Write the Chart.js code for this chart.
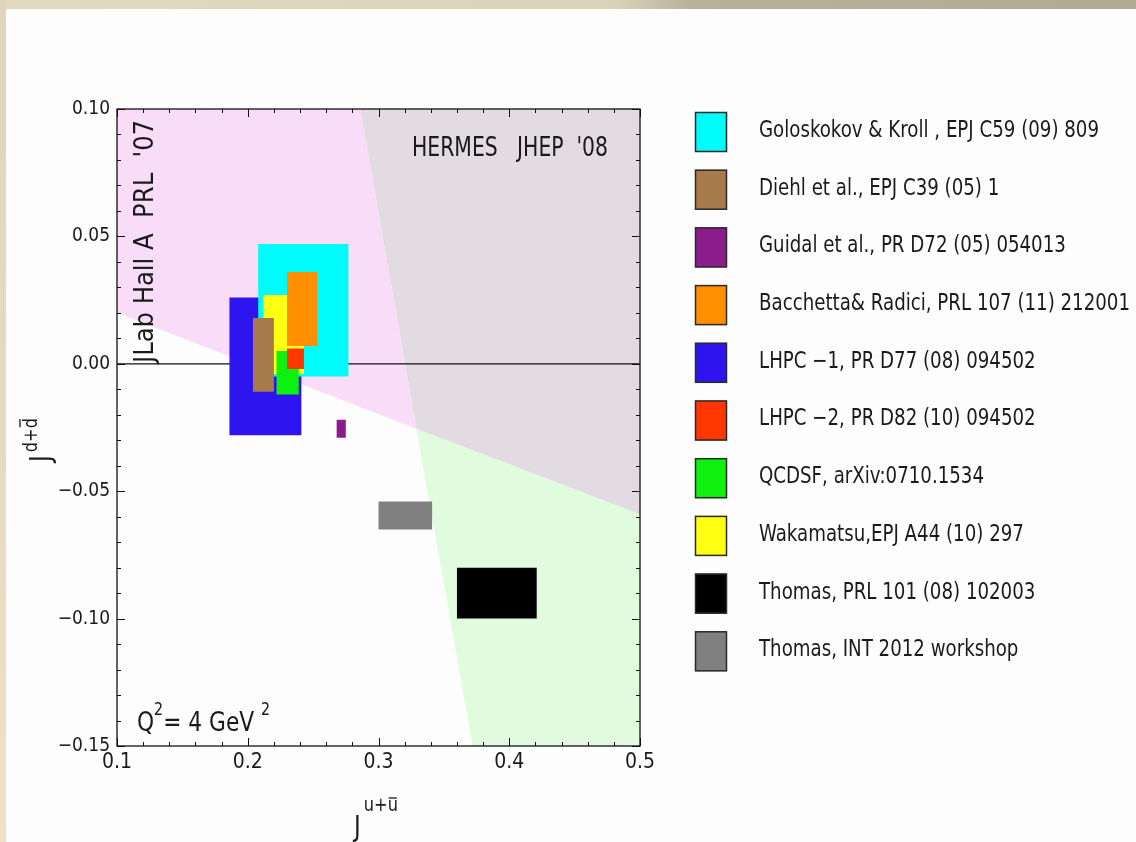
<!DOCTYPE html>
<html>
<head>
<meta charset="utf-8">
<script src="https://cdn.jsdelivr.net/npm/chart.js@4/dist/chart.umd.min.js"></script>
<style>
    html, body { margin: 0; padding: 0; background: #fdfdfd; }
    #wrap { position: relative; width: 1136px; height: 842px; overflow: hidden; }
    #topBar { position: absolute; left: 0; top: 0; width: 1136px; height: 9px;
        background: linear-gradient(to right, #e2dac0 0%, #dbd3b9 54%, #b9b09c 61%, #b3aa96 100%); }
    #leftBar { position: absolute; left: 0; top: 0; width: 6px; height: 842px;
        background: linear-gradient(to bottom, #ddd6bc 0%, #e4dbc1 50%, #efe1c4 100%); }
    canvas { position: absolute; left: 0; top: 0; }
</style>
</head>
<body>
<div id="wrap">
    <canvas id="chart" width="1136" height="842"></canvas>
    <div id="topBar"></div>
    <div id="leftBar"></div>
</div>
<script>
// --- data ---
const modelLabels = [
    'Goloskokov & Kroll , EPJ C59 (09) 809',
    'Diehl et al., EPJ C39 (05) 1',
    'Guidal et al., PR D72 (05) 054013',
    'Bacchetta& Radici, PRL 107 (11) 212001',
    'LHPC \u22121, PR D77 (08) 094502',
    'LHPC \u22122, PR D82 (10) 094502',
    'QCDSF, arXiv:0710.1534',
    'Wakamatsu,EPJ A44 (10) 297',
    'Thomas, PRL 101 (08) 102003',
    'Thomas, INT 2012 workshop'
];
const modelColors = ['#00fbfb', '#a8794a', '#8c1c8c', '#ff8e00', '#2e14ee', '#ff3600', '#0ef00e', '#ffff12', '#000000', '#808080'];
const xLow  = [0.208, 0.204, 0.268, 0.230, 0.186, 0.230, 0.222, 0.212, 0.360, 0.300];
const xHigh = [0.277, 0.220, 0.275, 0.253, 0.241, 0.243, 0.239, 0.243, 0.421, 0.341];
const yLow  = [-0.005, -0.011, -0.029, 0.007, -0.028, -0.002, -0.012, -0.004, -0.100, -0.065];
const yHigh = [0.047, 0.018, -0.022, 0.036, 0.026, 0.006, 0.005, 0.027, -0.080, -0.054];
// stacking: 0 = drawn first (bottom)
const zRank = [1, 4, 7, 3, 0, 6, 5, 2, 9, 8];

// constraint bands (JLab Hall A and HERMES)
const jlabEdge = [{ x: 0.1, y: 0.020 }, { x: 0.5, y: -0.059 }];
const hermesEdge = [{ x: 0.286, y: 0.10 }, { x: 0.372, y: -0.15 }];
const bandCross = { x: 0.329, y: -0.0255 };

const xTicks = [0.1, 0.2, 0.3, 0.4, 0.5];
const xTickLabels = ['0.1', '0.2', '0.3', '0.4', '0.5'];
const yTicks = [-0.15, -0.10, -0.05, 0.00, 0.05, 0.10];
const yTickLabels = ['\u22120.15', '\u22120.10', '\u22120.05', '0.00', '0.05', '0.10'];

const FONT = "'Liberation Sans Narrow', 'DejaVu Sans Condensed', 'Liberation Sans', sans-serif";

function rectPoints(i) {
    return [
        { x: xLow[i], y: yLow[i] }, { x: xHigh[i], y: yLow[i] },
        { x: xHigh[i], y: yHigh[i] }, { x: xLow[i], y: yHigh[i] },
        { x: xLow[i], y: yLow[i] }
    ];
}

function shapeDataset(points, color, order) {
    return {
        type: 'line',
        data: points,
        backgroundColor: color,
        borderColor: 'rgba(0,0,0,0)',
        borderWidth: 0,
        pointRadius: 0,
        tension: 0,
        fill: 'shape',
        order: order
    };
}

const datasets = [];
// background bands
datasets.push(shapeDataset([
    { x: 0.1, y: 0.10 }, hermesEdge[0], bandCross, jlabEdge[0], { x: 0.1, y: 0.10 }
], '#f8dcf8', 100));
datasets.push(shapeDataset([
    hermesEdge[0], { x: 0.5, y: 0.10 }, jlabEdge[1], bandCross, hermesEdge[0]
], '#e2dbe2', 100));
datasets.push(shapeDataset([
    bandCross, jlabEdge[1], { x: 0.5, y: -0.15 }, hermesEdge[1], bandCross
], '#e1fbde', 100));
// zero line
datasets.push({
    type: 'line',
    data: [{ x: 0.1, y: 0 }, { x: 0.5, y: 0 }],
    borderColor: '#111',
    borderWidth: 1.3,
    pointRadius: 0,
    fill: false,
    order: 50
});
// model boxes
modelLabels.forEach((label, i) => {
    const ds = shapeDataset(rectPoints(i), modelColors[i], 20 - zRank[i]);
    ds.label = label;
    datasets.push(ds);
});

// squeeze text horizontally to mimic the condensed face of the original
function narrowText(ctx, text, x, y, squeeze) {
    ctx.fillText(text, x, y, ctx.measureText(text).width * squeeze);
    return ctx.measureText(text).width * squeeze;
}

// frame, inward ticks, text and legend
const decorations = {
    id: 'decorations',
    afterDatasetsDraw(chart) {
        const { ctx, chartArea: a, scales: { x, y } } = chart;
        ctx.save();
        ctx.strokeStyle = '#111';
        ctx.lineWidth = 1.3;
        ctx.strokeRect(a.left, a.top, a.right - a.left, a.bottom - a.top);

        ctx.lineWidth = 1;
        for (let i = 0; i <= 20; i++) {
            const px = Math.round(x.getPixelForValue(0.1 + i * 0.02)) + 0.5;
            const len = i % 5 === 0 ? 8 : 4;
            ctx.beginPath();
            ctx.moveTo(px, a.bottom); ctx.lineTo(px, a.bottom - len);
            ctx.moveTo(px, a.top); ctx.lineTo(px, a.top + len);
            ctx.stroke();
        }
        for (let i = 0; i <= 25; i++) {
            const py = Math.round(y.getPixelForValue(-0.15 + i * 0.01)) + 0.5;
            const len = i % 5 === 0 ? 8 : 4;
            ctx.beginPath();
            ctx.moveTo(a.left, py); ctx.lineTo(a.left + len, py);
            ctx.moveTo(a.right, py); ctx.lineTo(a.right - len, py);
            ctx.stroke();
        }

        ctx.fillStyle = '#1a1a1a';
        ctx.textBaseline = 'alphabetic';
        ctx.textAlign = 'left';

        // HERMES label
        ctx.font = '26px ' + FONT;
        ctx.fillText('HERMES   JHEP  \'08', 412, 156, 196);

        // Q^2 label
        const sq = 0.93;
        let qx = 137;
        ctx.font = '26px ' + FONT;
        qx += narrowText(ctx, 'Q', qx, 731, sq);
        ctx.font = '17px ' + FONT;
        qx += narrowText(ctx, '2', qx, 715, sq);
        ctx.font = '26px ' + FONT;
        qx += narrowText(ctx, '= 4 GeV ', qx, 731, sq);
        ctx.font = '17px ' + FONT;
        narrowText(ctx, '2', qx, 715, sq);

        // JLab label (vertical)
        ctx.save();
        ctx.translate(153, 363);
        ctx.rotate(-Math.PI / 2);
        ctx.font = '27px ' + FONT;
        ctx.fillText('JLab Hall A  PRL  \'07', 0, 0, 251);
        ctx.restore();

        // axis titles
        drawTitle(ctx, 'u', 376, 836, 25);
        ctx.save();
        ctx.translate(50, 440);
        ctx.rotate(-Math.PI / 2);
        drawTitle(ctx, 'd', 0, 0, 13);
        ctx.restore();

        // legend
        const legX = 695, legTop = 112, step = 57.7;
        ctx.font = '23px ' + FONT;
        const legSqueeze = 340 / ctx.measureText(modelLabels[0]).width;
        modelLabels.forEach((label, i) => {
            const top = legTop + i * step;
            ctx.fillStyle = modelColors[i];
            ctx.fillRect(legX, top, 32, 40);
            ctx.strokeStyle = '#2a2a2a';
            ctx.lineWidth = 1.5;
            ctx.strokeRect(legX + 0.5, top + 0.5, 31, 39);
            ctx.fillStyle = '#1a1a1a';
            ctx.font = '23px ' + FONT;
            ctx.textBaseline = 'middle';
            narrowText(ctx, label, 759, top + 19, legSqueeze);
        });
        ctx.restore();
    }
};

// "J" with superscript q+q-bar, centred on cx, baseline at by
function drawTitle(ctx, q, cx, by, raise) {
    const sq = 0.9;
    ctx.save();
    ctx.textBaseline = 'alphabetic';
    ctx.textAlign = 'left';
    ctx.fillStyle = '#1a1a1a';
    ctx.font = '28px ' + FONT;
    const wJ = ctx.measureText('J').width * sq;
    ctx.font = '20px ' + FONT;
    const wA = ctx.measureText(q + '+').width * sq;
    const wB = ctx.measureText(q).width * sq;
    let px = cx - (wJ + 3 + wA + wB) / 2;
    ctx.font = '28px ' + FONT;
    narrowText(ctx, 'J', px, by, sq);
    px += wJ + 3;
    ctx.font = '20px ' + FONT;
    const sb = by - raise;
    narrowText(ctx, q + '+', px, sb, sq);
    px += wA;
    narrowText(ctx, q, px, sb, sq);
    const barY = sb - (q === 'd' ? 17 : 13);
    ctx.strokeStyle = '#1a1a1a';
    ctx.lineWidth = 1.3;
    ctx.beginPath();
    ctx.moveTo(px + 1, barY); ctx.lineTo(px + wB - 1, barY);
    ctx.stroke();
    ctx.restore();
}

new Chart(document.getElementById('chart'), {
    type: 'scatter',
    data: { datasets: datasets },
    options: {
        responsive: false,
        animation: false,
        events: [],
        layout: { padding: { left: 0, top: 109, right: 496, bottom: 0 } },
        plugins: {
            legend: { display: false },
            tooltip: { enabled: false }
        },
        scales: {
            x: {
                type: 'linear',
                min: 0.1,
                max: 0.5,
                grid: { display: false, drawTicks: false },
                border: { display: false },
                afterBuildTicks: (s) => { s.ticks = xTicks.map(v => ({ value: v })); },
                afterFit: (s) => { s.height = 842 - 746; },
                ticks: {
                    padding: 4,
                    maxRotation: 0,
                    autoSkip: false,
                    color: '#1a1a1a',
                    font: { family: FONT, size: 21 },
                    callback: (v, i) => xTickLabels[i]
                }
            },
            y: {
                type: 'linear',
                min: -0.15,
                max: 0.10,
                grid: { display: false, drawTicks: false },
                border: { display: false },
                afterBuildTicks: (s) => { s.ticks = yTicks.map(v => ({ value: v })); },
                afterFit: (s) => { s.width = 117; },
                ticks: {
                    padding: 7,
                    autoSkip: false,
                    color: '#1a1a1a',
                    font: { family: FONT, size: 19 },
                    callback: (v, i) => yTickLabels[i]
                }
            }
        }
    },
    plugins: [decorations]
});
</script>
</body>
</html>
